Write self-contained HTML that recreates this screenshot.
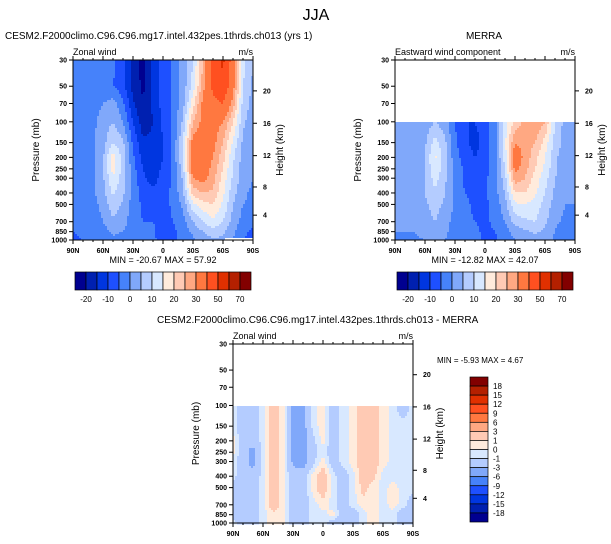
<!DOCTYPE html>
<html><head><meta charset="utf-8">
<style>
body{margin:0;background:#fff;}
svg{display:block;font-family:"Liberation Sans",sans-serif;}
</style></head>
<body>
<svg id="root" width="611" height="544" viewBox="0 0 611 544">
<text x="316" y="20" font-size="16" text-anchor="middle">JJA</text>
</svg>
<script>
const lats=[90,80,70,60,50,40,30,20,10,0,-10,-20,-30,-40,-50,-60,-70,-80,-90];
const pLevels=[30,50,70,100,150,200,250,300,400,500,700,850,1000];
const pTicks=[30,50,70,100,150,200,250,300,400,500,700,850,1000];
const latTickLabels=["90N","60N","30N","0","30S","60S","90S"];
const latTickVals=[90,60,30,0,-30,-60,-90];
const heightTicks=[4,8,12,16,20];
const levelsMain=[-20,-15,-10,-5,0,5,10,15,20,25,30,40,50,60,70];
const levelsMainLabels=["-20","-10","0","10","20","30","50","70"];
const levelsDiff=[-18,-15,-12,-9,-6,-3,-1,0,1,3,6,9,12,15,18];
const colors=["#000090","#0020B0","#0036E0","#1E50FF","#4682FA","#80A8FA","#B4CCFF","#D8E8FF","#FFEBDC","#FFCAB4","#FFA882","#FF7840","#FF5020","#E03000","#B42000","#820000"];
const model=[
[-3,-3,-3,-3,-4,-8,-18,-22,-14,-8,-4,2,10,25,45,52,35,12,5],
[-3,-3,-4,-4,-5,-8,-17,-21,-14,-8,-4,2,12,28,42,48,33,10,4],
[-4,-3,-2,0,2,-4,-14,-20,-14,-8,-4,3,18,32,38,40,28,8,3],
[-4,-3,-1,2,5,0,-10,-18,-15,-9,-4,6,25,32,33,30,20,6,2],
[-4,-3,-1,3,10,6,-6,-14,-14,-10,-4,10,33,35,32,25,14,4,1],
[-4,-3,-1,4,18,8,-4,-12,-15,-10,-4,10,38,36,30,22,11,3,0],
[-4,-3,-1,4,17,8,-3,-10,-13,-9,-4,8,35,34,28,20,10,2,0],
[-4,-3,-1,4,15,7,-2,-9,-12,-8,-4,6,30,32,27,18,9,2,0],
[-4,-4,-1,3,11,6,-2,-7,-9,-7,-4,4,22,25,24,16,7,1,-1],
[-4,-4,-2,2,8,4,-2,-6,-7,-7,-4,1,14,18,20,14,5,0,-1],
[-4,-4,-3,0,4,2,-3,-5,-5,-7,-5,-2,5,10,14,10,3,-2,-3],
[-5,-4,-4,-2,1,0,-3,-3,-4,-8,-6,-3,1,5,8,6,1,-4,-6],
[-6,-5,-4,-3,-1,-2,-3,-3,-4,-7,-6,-4,-1,2,4,4,0,-5,-6]];
const merra=[null,null,null,
[1,1,1,2,5,2,-5,-10,-10,-7,-2,12,22,26,30,25,10,3,1],
[1,1,2,4,12,6,-4,-9,-12,-8,-2,14,30,28,25,18,8,3,1],
[1,1,3,5,16,7,-3,-7,-10,-7,-2,12,35,28,22,15,6,2,1],
[1,1,3,5,14,7,-2,-6,-8,-7,-2,10,32,27,20,14,6,2,1],
[1,1,3,5,12,6,-2,-6,-7,-6,-2,8,28,25,18,12,5,2,1],
[1,1,3,5,9,5,-1,-5,-6,-6,-2,5,20,20,16,10,4,1,1],
[1,1,2,4,7,4,-1,-4,-6,-6,-3,3,14,15,13,8,3,0,0],
[1,1,1,3,5,2,-2,-4,-5,-6,-4,0,7,9,10,6,1,-1,-2],
[0,0,0,2,3,1,-2,-3,-4,-6,-5,-2,2,4,6,4,0,-3,-4],
[-1,-1,-1,0,1,0,-2,-3,-4,-6,-6,-3,0,1,3,2,-1,-4,-5]];
const diff=[null,null,null,
[-0.5,-2,-2,-0.5,2,0.5,-4,-4,-0.5,0.5,-2,-0.5,0.5,2,2,0.5,-0.5,-2,-0.5],
[-0.5,-2,-2,-0.5,2,0.5,-4,-4,-0.5,0.5,-2,-0.5,0.5,2,2,0.5,-0.5,-0.5,-0.5],
[0.5,-2,-2,-0.5,2,0.5,-4,-4,-1.5,0.5,-2,-0.5,0.5,2,2,0.5,-0.5,-0.5,-0.5],
[0.5,-2,-4,-0.5,2,0.5,-4,-4,-1.5,-0.5,-2,-0.5,0.5,2,2,0.5,-0.5,-0.5,-0.5],
[-0.5,-2,-4,-0.5,2,0.5,-3.5,-4,-1.5,0.5,-2,-0.5,0.5,2,2,0.5,-0.5,-0.5,-0.5],
[-0.5,-2,-2,-0.5,2,0.5,-2,-2,0.5,2,-0.5,-2,-0.5,2,1.5,-0.5,-0.5,-0.5,-0.5],
[-2,-2,-2,-0.5,2,0.5,-2,-2,0.5,2,-0.5,-2,-0.5,1.5,0.5,-0.5,0.5,-0.5,-0.5],
[-2,-2,-2,-0.5,2,0.5,-2,-2,-0.5,0.5,-0.5,-2,-0.5,0.5,0.5,-0.5,0.5,-0.5,-2],
[-2,-2,-2,-0.5,0.5,0.5,-2,-2,-0.5,-0.5,0.5,-2,-2,-0.5,0.5,-0.5,-0.5,-2,-2],
[-0.5,-2,-2,-0.5,0.5,0.5,-2,-2,-0.5,-0.5,-2,-2,-2,-0.5,0.5,-0.5,-0.5,-2,-2]];

const NS="http://www.w3.org/2000/svg";
const root=document.getElementById('root');
function mk(tag,attrs,parent){const e=document.createElementNS(NS,tag);for(const k in attrs)e.setAttribute(k,attrs[k]);(parent||root).appendChild(e);return e;}
function txt(x,y,s,size,anchor,parent){const t=mk('text',{x:x,y:y,'font-size':size,'text-anchor':anchor||'start'},parent);t.textContent=s;return t;}
function colorFor(v,lv){let i=0;while(i<lv.length&&v>=lv[i])i++;return colors[i];}
function stdP(zkm){const z=zkm*1000;if(z<=11000)return 1013.25*Math.pow(1-2.25577e-5*z,5.25588);return 226.32*Math.exp(-(z-11000)/6341.6);}
function interp(grid,lat,p){
  let fi=(90-lat)/10;let i0=Math.min(17,Math.floor(fi));let tx=fi-i0;
  const lp=Math.log(p);let j=0;while(j<pLevels.length-2&&p>pLevels[j+1])j++;
  const ty=(lp-Math.log(pLevels[j]))/(Math.log(pLevels[j+1])-Math.log(pLevels[j]));
  if(!grid[j])return null;
  const a=grid[j][i0]*(1-tx)+grid[j][i0+1]*tx;const b=grid[j+1][i0]*(1-tx)+grid[j+1][i0+1]*tx;
  return a*(1-ty)+b*ty;}

function panel(o){
  const g=mk('g',{});
  
  
  const X=lat=>o.x+(90-lat)/180*o.w;
  const Y=p=>o.y+Math.log10(p/30)/Math.log10(1000/30)*o.h;
  const Pinv=y=>30*Math.pow(1000/30,(y-o.y)/o.h);
  const field=mk('g',{},g);
  
  
  const step=2;
  for(let y=o.y;y<o.y+o.h;y+=step){
    const p=Pinv(y+step/2);let runStart=null,runCol=null;
    for(let x=o.x;x<=o.x+o.w;x+=step){
      let col=null;
      if(x<o.x+o.w){const lat=90-(x+step/2-o.x)/o.w*180;
        let v=interp(o.data,lat,p);
        if(o.mask&&lat<-62&&p>960)col='#ffffff';
        if(v!==null&&!col)col=colorFor(v,o.levels);}
      if(col!==runCol){
        if(runCol){const r=mk('rect',{x:runStart,y:y,width:x-runStart+0.5,height:step+0.5,fill:runCol},field);
          
          }
        runStart=x;runCol=col;}
    }
  }
  mk('rect',{x:o.x,y:o.y,width:o.w,height:o.h,fill:'none',stroke:'#000','stroke-width':1},g);
  pTicks.forEach(p=>{const y=Y(p);mk('line',{x1:o.x-4,x2:o.x,y1:y,y2:y,stroke:'#000'},g);
    const t=txt(o.x-6,y+2.5,String(p),7,'end',g);t.setAttribute('font-weight','bold');});
  latTickVals.forEach((l,i)=>{const x=X(l);mk('line',{x1:x,x2:x,y1:o.y+o.h,y2:o.y+o.h+4,stroke:'#000'},g);
    mk('line',{x1:x,x2:x,y1:o.y,y2:o.y-4,stroke:'#000'},g);
    const t=txt(x,o.y+o.h+13,latTickLabels[i],7,'middle',g);t.setAttribute('font-weight','bold');});
  for(let l=80;l>-90;l-=10){if(l%30){const x=X(l);mk('line',{x1:x,x2:x,y1:o.y,y2:o.y-2,stroke:'#000'},g);mk('line',{x1:x,x2:x,y1:o.y+o.h,y2:o.y+o.h+2,stroke:'#000'},g);}}
  heightTicks.forEach(z=>{const y=Y(stdP(z));mk('line',{x1:o.x+o.w,x2:o.x+o.w+4,y1:y,y2:y,stroke:'#000'},g);
    const t=txt(o.x+o.w+10,y+2.5,String(z),7,'start',g);t.setAttribute('font-weight','bold');});
  const yl=txt(0,0,'Pressure (mb)',10,'middle',g);yl.setAttribute('transform',`translate(${o.x-34},${o.y+o.h/2}) rotate(-90)`);
  
  const hl=txt(0,0,'Height (km)',10,'middle',g);hl.setAttribute('transform',`translate(${o.x+o.w+30},${o.y+o.h/2}) rotate(-90)`);
  
  txt(o.x,o.y-5,o.left,9,'start',g);
  txt(o.x+o.w,o.y-5,'m/s',9,'end',g);
  return g;}

panel({name:'model-panel',x:73,y:60,w:180,h:180,data:model,levels:levelsMain,left:'Zonal wind',mask:true});
panel({name:'merra-panel',x:395,y:60,w:180,h:180,data:merra,levels:levelsMain,left:'Eastward wind component',mask:false});
panel({name:'diff-panel',x:233,y:344,w:180,h:179,data:diff,levels:levelsDiff,left:'Zonal wind',mask:false});

txt(5,39,'CESM2.F2000climo.C96.C96.mg17.intel.432pes.1thrds.ch013 (yrs 1)',10,'start');
txt(484,39,'MERRA',10,'middle');
txt(163,263,'MIN = -20.67  MAX =  57.92',9,'middle');
txt(485,263,'MIN = -12.82  MAX =  42.07',9,'middle');
txt(157,323,'CESM2.F2000climo.C96.C96.mg17.intel.432pes.1thrds.ch013 - MERRA',10,'start');
txt(437,363,'MIN =  -5.93  MAX =   4.67',8,'start');

function hbar(x0,x1,y,name){
  const g=mk('g',{});
  const w=(x1-x0)/colors.length;
  colors.forEach((c,i)=>{const r=mk('rect',{x:x0+i*w,y:y,width:w,height:18,fill:c,stroke:'#000','stroke-width':0.7},g);
    });
  levelsMainLabels.forEach((s,k)=>{txt(x0+(2*k+1)*w,y+30,s,8,'middle',g);});
}
hbar(75,251,272,'model-colorbar');
hbar(397,573,272,'merra-colorbar');
(function(){
  const g=mk('g',{});
  const y0=377,y1=522,h=(y1-y0)/colors.length;
  colors.slice().reverse().forEach((c,i)=>{const r=mk('rect',{x:470,y:y0+i*h,width:18,height:h,fill:c,stroke:'#000','stroke-width':0.7},g);
    });
  levelsDiff.slice().reverse().forEach((v,i)=>{txt(493,y0+(i+1)*h+3,String(v),8,'start',g);});
})();
</script>
</body></html>
